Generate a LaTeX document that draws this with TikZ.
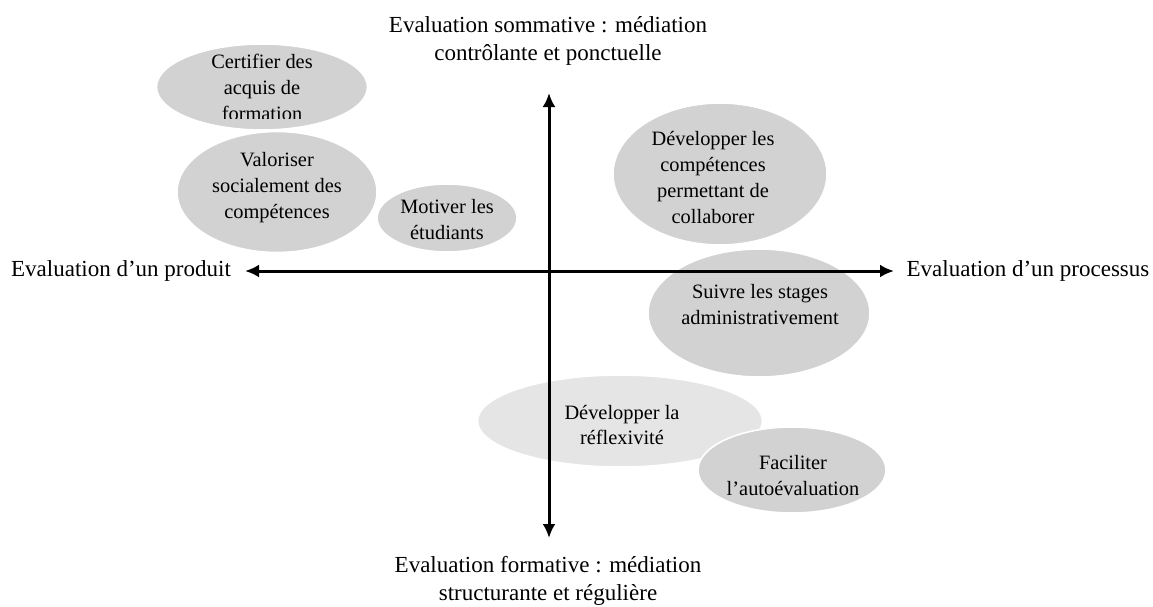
\documentclass[tikz,border=0pt]{standalone}
\usepackage{fontspec}
\setmainfont{Liberation Serif}
\usetikzlibrary{arrows.meta,shapes.geometric}

\begin{document}
\begin{tikzpicture}[x=0.5pt,y=-0.5pt,
  bulle/.style={ellipse,fill=gray!35,draw=white,line width=0.8pt,inner sep=0pt},
  pale/.style={ellipse,fill=gray!20,draw=white,line width=0.8pt,inner sep=0pt},
  texte/.style={align=center,inner sep=0pt,font=\fontsize{10.2}{13}\selectfont},
  titre/.style={align=center,inner sep=0pt,font=\fontsize{11.5}{14}\selectfont},
  axe/.style={{Latex[length=7pt,width=6.5pt]}-{Latex[length=7pt,width=6.5pt]},line width=1.5pt}]
\useasboundingbox (0,0) rectangle (1153,606);

% bulles
\node [bulle,minimum width=105.5pt,minimum height=43pt] (certif) at (262,87) {};
\node [bulle,minimum width=100pt,minimum height=60.5pt] (valor) at (277,192) {};
\node [bulle,minimum width=70pt,minimum height=34pt] (motiv) at (447,218) {};
\node [bulle,minimum width=107pt,minimum height=71pt] (collab) at (720,174) {};
\node [bulle,minimum width=111pt,minimum height=64pt] (stages) at (759,313) {};
\node [pale,minimum width=142.5pt,minimum height=46pt] (reflex) at (620,421) {};
\node [bulle,minimum width=94pt,minimum height=43pt] (autoeval) at (792,470) {};

% axes
\coordinate (haut) at (549,93);
\coordinate (bas) at (549,538);
\coordinate (gauche) at (245,271);
\coordinate (droite) at (894,271);
\draw [axe] (bas) -- (haut);
\draw [axe] (gauche) -- (droite);

\node [titre] (somm) at (548,41) {Evaluation sommative : médiation\\contrôlante et ponctuelle};
\node [titre] (form) at (548,581) {Evaluation formative : médiation\\structurante et régulière};
\node [titre] (produit) at (121,271) {Evaluation d’un produit};
\node [titre] (processus) at (1028,271) {Evaluation d’un processus};

% textes des bulles
\begin{scope}
\clip (150,40) rectangle (380,118);
\node [texte] at (262,87) {Certifier des\\acquis de\\formation};
\end{scope}
\node [texte] at (277,188) {Valoriser\\socialement des\\compétences};
\node [texte] at (447,220) {Motiver les\\étudiants};
\node [texte] at (713,178) {Développer les\\compétences\\permettant de\\collaborer};
\node [texte] at (760,305) {Suivre les stages\\administrativement};
\node [texte] at (622,425) {Développer la\\réflexivité};
\node [texte] at (793,476) {Faciliter\\l’autoévaluation};
\end{tikzpicture}
\end{document}
